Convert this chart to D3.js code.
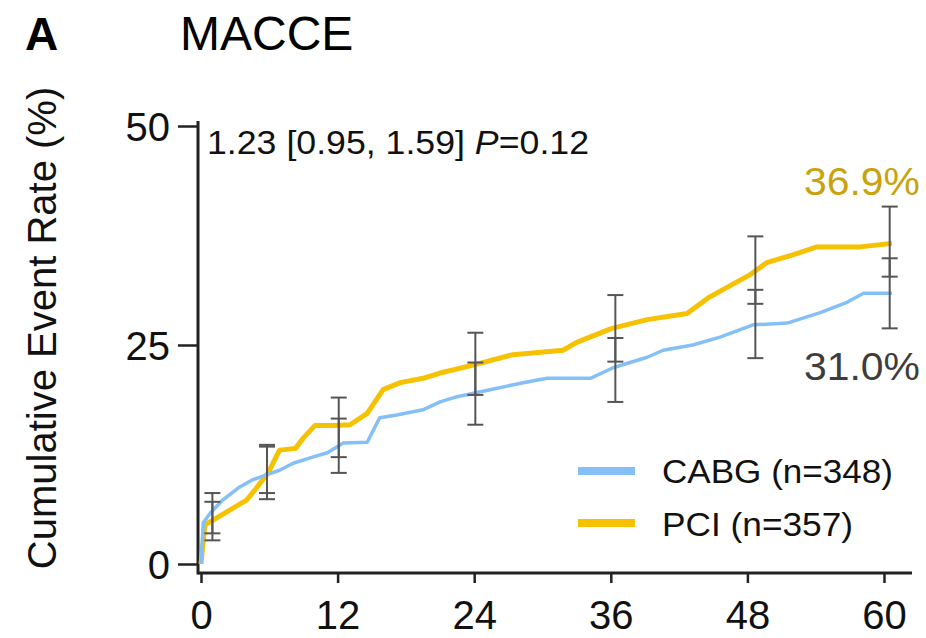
<!DOCTYPE html>
<html>
<head>
<meta charset="utf-8">
<script src="https://cdn.jsdelivr.net/npm/d3@7"></script>
<style>
  body { margin: 0; background: #fff; }
  svg text { font-family: "Liberation Sans", Arial, Helvetica, sans-serif; }
</style>
</head>
<body>
<svg class="km" width="926" height="638"></svg>
<script>
// values (months, cumulative %)
var cabgTime = [0, 0.2, 0.8, 1.9, 2.5, 3.4, 4.5, 5.8, 6.9, 8.1, 9.8, 11.1, 12.5, 14.6, 15.7, 17.2, 19.5, 21, 22.5, 25.4, 28.3, 30.4, 34.2, 36.2, 39.2, 40.6, 43.2, 45.6, 48.5, 51.5, 54.4, 56.8, 58.2, 60.7];
var cabgRate = [0, 4.7, 5.8, 7.3, 7.9, 8.8, 9.6, 10.2, 10.7, 11.5, 12.2, 12.7, 13.8, 13.9, 16.7, 17.0, 17.6, 18.5, 19.1, 19.9, 20.7, 21.2, 21.2, 22.4, 23.6, 24.4, 25.0, 25.9, 27.3, 27.5, 28.7, 29.9, 30.9, 30.9];

var pciTime = [0, 0.35, 1.05, 4.0, 4.7, 5.9, 6.9, 8.3, 9.0, 10, 11.6, 13.1, 14.6, 16, 17.5, 19.5, 21, 23.9, 27.4, 31.8, 33, 36.1, 39.2, 42.7, 44.7, 48.2, 49.7, 52, 54.1, 57.9, 60.7];
var pciRate = [0, 4.5, 5.0, 7.3, 8.4, 10.4, 13.0, 13.2, 14.4, 15.8, 15.8, 15.9, 17.2, 19.9, 20.7, 21.2, 21.8, 22.7, 23.9, 24.4, 25.3, 26.9, 27.9, 28.6, 30.5, 33.0, 34.4, 35.3, 36.2, 36.2, 36.6];

// 95% CI bars at the landmark times
var ciTime = [1, 5.8, 12.1, 24.1, 36.4, 48.7, 60.5];
var pciLow = [3.5, 8.1, 12.2, 19.3, 23.1, 29.7, 32.8];
var pciHigh = [8.1, 13.6, 19.0, 26.4, 30.7, 37.4, 40.8];
var cabgLow = [2.7, 7.4, 10.4, 15.9, 18.5, 23.5, 26.9];
var cabgHigh = [7.1, 13.4, 16.6, 23.0, 25.8, 31.3, 34.9];

var xTicks = [0, 12, 24, 36, 48, 60];
var yTicks = [0, 25, 50];

var groups = ["CABG (n=348)", "PCI (n=357)"];
var endLabels = ["31.0%", "36.9%"];

var colBlue = "#84c0f6", colGold = "#f6c200";

var svg = d3.select("svg.km");

var x = d3.scaleLinear().domain([0, 60]).range([201, 884]);
var y = d3.scaleLinear().domain([0, 50]).range([564, 126]);
var baseY = 573, axisX = 198;

// titles
svg.append("text").attr("x", 25).attr("y", 50)
  .style("font-size", "46px").style("font-weight", "bold").text("A");
svg.append("text").attr("x", 180).attr("y", 50)
  .style("font-size", "48px").text("MACCE");

// y axis label
svg.append("text")
  .attr("transform", "translate(56," + 328 + ") rotate(-90)")
  .attr("text-anchor", "middle")
  .style("font-size", "40px").attr("fill", "#111")
  .text("Cumulative Event Rate (%)");

// axes
var gy = svg.append("g").attr("transform", "translate(" + axisX + ",0)")
  .call(d3.axisLeft(y).tickValues(yTicks).tickSize(20).tickPadding(8).tickSizeOuter(0));
gy.select(".domain").remove();
gy.selectAll(".tick line").attr("stroke", "#222").attr("stroke-width", 2.5);
gy.selectAll(".tick text").style("font-size", "40px").attr("fill", "#111").attr("dy", "0.36em");
svg.append("line").attr("x1", axisX).attr("x2", axisX)
  .attr("y1", y(50) - 5).attr("y2", baseY + 1.5)
  .attr("stroke", "#222").attr("stroke-width", 3);

var gx = svg.append("g").attr("transform", "translate(0," + baseY + ")")
  .call(d3.axisBottom(x).tickValues(xTicks).tickSize(10).tickPadding(18).tickSizeOuter(0));
gx.select(".domain").remove();
gx.selectAll(".tick line").attr("stroke", "#222").attr("stroke-width", 2.5);
gx.selectAll(".tick text").style("font-size", "40px").attr("fill", "#111");
svg.append("line").attr("x1", axisX).attr("x2", 912)
  .attr("y1", baseY).attr("y2", baseY)
  .attr("stroke", "#222").attr("stroke-width", 3);

// annotation
var ann = svg.append("text").attr("x", 207).attr("y", 154)
  .attr("textLength", 382).attr("lengthAdjust", "spacingAndGlyphs")
  .style("font-size", "33px").attr("fill", "#111");
ann.append("tspan").text("1.23 [0.95, 1.59] ");
ann.append("tspan").style("font-style", "italic").text("P");
ann.append("tspan").text("=0.12");

// curves
var line = d3.line()
  .x(function(d) { return x(d[0]); })
  .y(function(d) { return y(d[1]); });

svg.append("path")
  .datum(d3.zip(pciTime, pciRate))
  .attr("d", line).attr("fill", "none")
  .attr("stroke", colGold).attr("stroke-width", 5).attr("stroke-linejoin", "round");

svg.append("path")
  .datum(d3.zip(cabgTime, cabgRate))
  .attr("d", line).attr("fill", "none")
  .attr("stroke", colBlue).attr("stroke-width", 3.5).attr("stroke-linejoin", "round");

// error bars
var bars = [];
ciTime.forEach(function(t, i) {
  bars.push({t: t, lo: pciLow[i], hi: pciHigh[i]});
  bars.push({t: t, lo: cabgLow[i], hi: cabgHigh[i]});
});
var eb = svg.append("g").attr("stroke", "#555").attr("stroke-width", 2);
eb.selectAll("line.v").data(bars).enter().append("line")
  .attr("x1", function(d) { return x(d.t); })
  .attr("x2", function(d) { return x(d.t); })
  .attr("y1", function(d) { return y(d.lo); })
  .attr("y2", function(d) { return y(d.hi); });
["lo", "hi"].forEach(function(k) {
  eb.selectAll("line.c" + k).data(bars).enter().append("line")
    .attr("x1", function(d) { return x(d.t) - 8; })
    .attr("x2", function(d) { return x(d.t) + 8; })
    .attr("y1", function(d) { return y(d[k]); })
    .attr("y2", function(d) { return y(d[k]); });
});

// end labels
svg.append("text").attr("x", 920).attr("y", 195).attr("text-anchor", "end")
  .attr("textLength", 116).attr("lengthAdjust", "spacingAndGlyphs")
  .style("font-size", "39px").attr("fill", "#c9a20c").text(endLabels[1]);
svg.append("text").attr("x", 920).attr("y", 380).attr("text-anchor", "end")
  .attr("textLength", 116).attr("lengthAdjust", "spacingAndGlyphs")
  .style("font-size", "39px").attr("fill", "#3d3d3d").text(endLabels[0]);

// legend
var legW = [231, 191];
var leg = svg.append("g");
[colBlue, colGold].forEach(function(c, i) {
  leg.append("line").attr("x1", 578).attr("x2", 635)
    .attr("y1", 471 + i * 52).attr("y2", 471 + i * 52)
    .attr("stroke", c).attr("stroke-width", 8);
  leg.append("text").attr("x", 662).attr("y", 483 + i * 53)
    .attr("textLength", legW[i]).attr("lengthAdjust", "spacingAndGlyphs")
    .style("font-size", "33px").attr("fill", "#111").text(groups[i]);
});
</script>
</body>
</html>
